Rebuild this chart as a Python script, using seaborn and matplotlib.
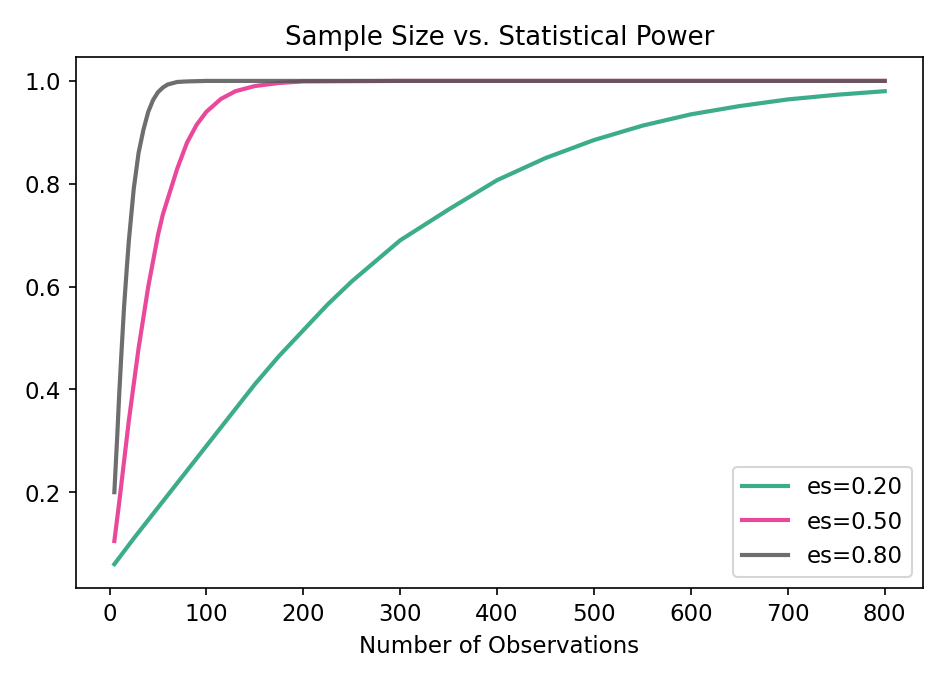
import matplotlib
matplotlib.use("Agg")
import matplotlib.pyplot as plt
import seaborn as sns
import pandas as pd

# values
obs_02 = [5, 25, 50, 75, 100, 125, 150, 175, 200, 225, 250, 275, 300, 350, 400, 450, 500, 550, 600, 650, 700, 750, 800]
pow_02 = [0.06, 0.11, 0.17, 0.23, 0.29, 0.35, 0.41, 0.465, 0.515, 0.565, 0.61, 0.65, 0.69, 0.75, 0.807, 0.85, 0.885, 0.913, 0.935, 0.951, 0.964, 0.973, 0.98]

obs_05 = [5, 10, 15, 20, 25, 30, 35, 40, 45, 50, 55, 60, 70, 80, 90, 100, 115, 130, 150, 175, 200, 300, 800]
pow_05 = [0.105, 0.18, 0.26, 0.34, 0.41, 0.48, 0.54, 0.60, 0.65, 0.70, 0.74, 0.77, 0.83, 0.88, 0.915, 0.94, 0.965, 0.98, 0.99, 0.996, 0.999, 1.0, 1.0]

obs_08 = [5, 8, 10, 12, 15, 18, 20, 25, 30, 35, 40, 45, 50, 55, 60, 70, 80, 100, 800]
pow_08 = [0.2, 0.31, 0.39, 0.46, 0.56, 0.64, 0.69, 0.79, 0.86, 0.905, 0.94, 0.963, 0.978, 0.987, 0.993, 0.998, 0.999, 1.0, 1.0]

labels = ["es=0.20", "es=0.50", "es=0.80"]
colors = ["#1b9e77", "#e7298a", "#555555"]

frames = []
for obs, pw, lab in zip([obs_02, obs_05, obs_08], [pow_02, pow_05, pow_08], labels):
    frames.append(pd.DataFrame({"obs": obs, "power": pw, "es": lab}))
df = pd.concat(frames)

plt.rcParams["font.size"] = 11
fig, ax = plt.subplots(figsize=(6.32, 4.55), dpi=150)
sns.lineplot(data=df, x="obs", y="power", hue="es", palette=colors,
             linewidth=2.0, alpha=0.85, ax=ax)
ax.set_title("Sample Size vs. Statistical Power", fontsize=12.5)
ax.set_xlabel("Number of Observations")
ax.set_ylabel("")
ax.set_xticks(range(0, 801, 100))
ax.legend(loc="lower right", title=None)
plt.tight_layout()
plt.savefig("out.png")
